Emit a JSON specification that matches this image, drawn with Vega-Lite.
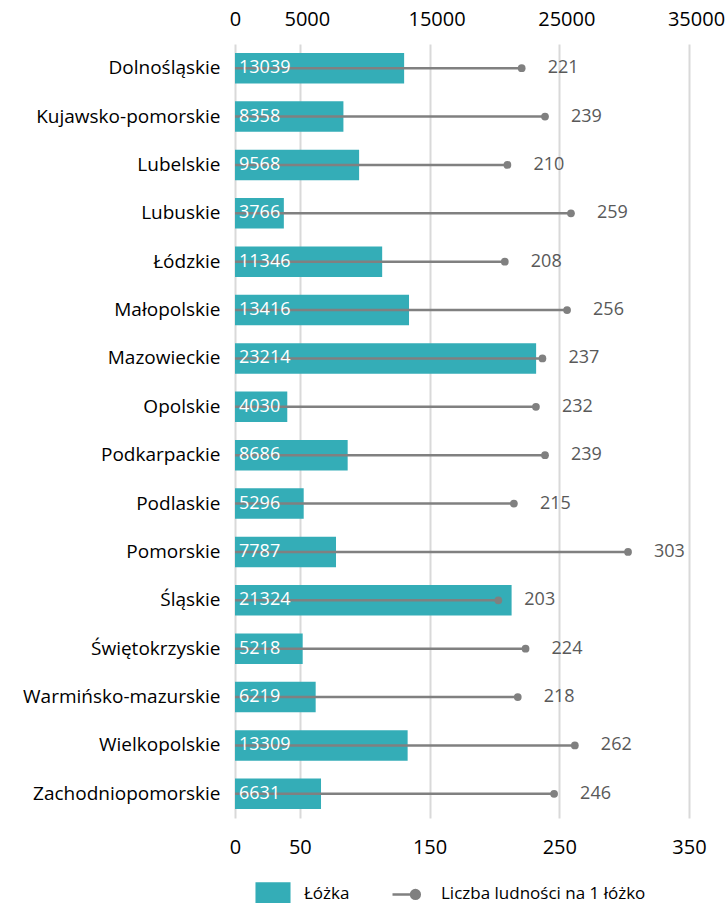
{
  "$schema": "https://vega.github.io/schema/vega-lite/v6.json",
  "width": 454,
  "height": 774,
  "autosize": {"type": "none"},
  "padding": {"left": 235, "top": 44, "right": 36, "bottom": 85},
  "config": {
    "view": {"stroke": null},
    "font": "Open Sans",
    "legend": {
      "orient": "none",
      "legendX": 19,
      "legendY": 831,
      "direction": "horizontal",
      "symbolSize": 1225,
      "labelFontSize": 17,
      "labelColor": "#000000",
      "labelFont": "Open Sans",
      "labelOffset": 12,
      "labelLimit": 0,
      "columnPadding": 37,
      "symbolStrokeWidth": 2.5,
      "padding": 0
    }
  },
  "data": {
    "values": [
      {"region": "Dolnośląskie", "beds": 13039, "pop": 221},
      {"region": "Kujawsko-pomorskie", "beds": 8358, "pop": 239},
      {"region": "Lubelskie", "beds": 9568, "pop": 210},
      {"region": "Lubuskie", "beds": 3766, "pop": 259},
      {"region": "Łódzkie", "beds": 11346, "pop": 208},
      {"region": "Małopolskie", "beds": 13416, "pop": 256},
      {"region": "Mazowieckie", "beds": 23214, "pop": 237},
      {"region": "Opolskie", "beds": 4030, "pop": 232},
      {"region": "Podkarpackie", "beds": 8686, "pop": 239},
      {"region": "Podlaskie", "beds": 5296, "pop": 215},
      {"region": "Pomorskie", "beds": 7787, "pop": 303},
      {"region": "Śląskie", "beds": 21324, "pop": 203},
      {"region": "Świętokrzyskie", "beds": 5218, "pop": 224},
      {"region": "Warmińsko-mazurskie", "beds": 6219, "pop": 218},
      {"region": "Wielkopolskie", "beds": 13309, "pop": 262},
      {"region": "Zachodniopomorskie", "beds": 6631, "pop": 246}
    ]
  },
  "encoding": {
    "y": {
      "field": "region",
      "type": "nominal",
      "sort": null,
      "scale": {"paddingInner": 0.37, "paddingOuter": 0.185},
      "axis": {
        "title": null,
        "ticks": false,
        "domain": false,
        "labelFontSize": 19,
        "labelFont": "Open Sans",
        "labelColor": "#000000",
        "labelPadding": 15,
        "labelLimit": 0
      }
    }
  },
  "layer": [
    {
      "mark": {"type": "bar", "color": "#34adb7"},
      "encoding": {
        "x": {
          "field": "beds",
          "type": "quantitative",
          "scale": {"domain": [0, 35000], "nice": false, "zero": true},
          "axis": {
            "orient": "top",
            "title": null,
            "values": [0, 5000, 15000, 25000, 35000],
            "format": "d",
            "labelFontSize": 20,
            "labelFont": "Open Sans",
            "labelColor": "#000000",
            "ticks": false,
            "tickSize": 0,
            "domain": false,
            "labelPadding": 15,
            "labelFlush": false,
            "labelOverlap": false,
            "labelOffset": {"condition": {"test": "datum.value > 0", "value": 7}, "value": 0},
            "grid": true,
            "gridColor": "#d9d9d9",
            "gridWidth": 2
          }
        }
      }
    },
    {
      "layer": [
        {
          "mark": {"type": "rule", "color": "#808080", "strokeWidth": 2.5},
          "encoding": {
            "x": {
              "field": "pop",
              "type": "quantitative",
              "scale": {"domain": [0, 350], "nice": false, "zero": true},
              "axis": {
                "orient": "bottom",
                "title": null,
                "values": [0, 50, 150, 250, 350],
                "labelFontSize": 20,
                "labelFont": "Open Sans",
                "labelColor": "#000000",
                "ticks": false,
                "tickSize": 0,
                "domain": false,
                "grid": false,
                "labelPadding": 19,
                "labelFlush": false,
                "labelOverlap": false
              }
            },
            "x2": {"datum": 0}
          }
        },
        {
          "mark": {"type": "circle", "color": "#808080", "size": 60, "opacity": 1},
          "encoding": {
            "x": {"field": "pop", "type": "quantitative"}
          }
        },
        {
          "mark": {"type": "text", "color": "#ffffff", "align": "left", "baseline": "middle", "dx": 4, "fontSize": 18, "font": "Open Sans"},
          "encoding": {
            "x": {"datum": 0},
            "text": {"field": "beds", "type": "quantitative", "format": "d"}
          }
        },
        {
          "mark": {"type": "text", "color": "#595959", "align": "left", "baseline": "middle", "dx": 26, "fontSize": 18, "font": "Open Sans"},
          "encoding": {
            "x": {"field": "pop", "type": "quantitative"},
            "text": {"field": "pop", "type": "quantitative", "format": "d"}
          }
        }
      ]
    },
    {
      "transform": [{"filter": "false"}],
      "mark": {"type": "point", "filled": true, "opacity": 1, "strokeWidth": 2.5},
      "encoding": {
        "fill": {
          "field": "series",
          "type": "nominal",
          "scale": {"domain": ["Łóżka", "Liczba ludności na 1 łóżko"], "range": ["#34adb7", "#808080"]},
          "legend": {"title": null}
        },
        "stroke": {
          "field": "series",
          "type": "nominal",
          "scale": {"domain": ["Łóżka", "Liczba ludności na 1 łóżko"], "range": ["#34adb7", "#808080"]},
          "legend": {"title": null}
        },
        "shape": {
          "field": "series",
          "type": "nominal",
          "scale": {
            "domain": ["Łóżka", "Liczba ludności na 1 łóżko"],
            "range": [
              "M-1,-0.69M1,0.69M-0.93,-0.62H0.93V0.62H-0.93Z",
              "M-1,-0.69M1,0.69M-1,0L0.06,0M0.06,0A0.25,0.25,0,1,0,0.56,0A0.25,0.25,0,1,0,0.06,0Z"
            ]
          },
          "legend": {"title": null}
        }
      }
    }
  ],
  "resolve": {
    "scale": {"x": "independent"},
    "axis": {"x": "independent"}
  }
}
